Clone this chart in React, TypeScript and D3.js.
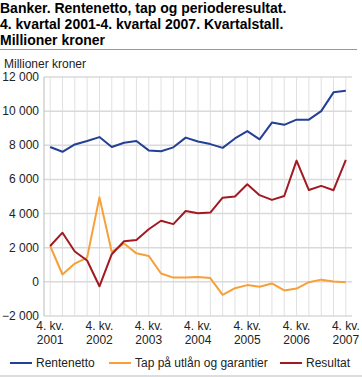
import React, { useEffect, useRef } from 'react';
import * as d3 from 'd3';

// quarters 4. kv. 2001 - 4. kv. 2007
const quarters = [
  '4-2001', '1-2002', '2-2002', '3-2002', '4-2002', '1-2003', '2-2003', '3-2003',
  '4-2003', '1-2004', '2-2004', '3-2004', '4-2004', '1-2005', '2-2005', '3-2005',
  '4-2005', '1-2006', '2-2006', '3-2006', '4-2006', '1-2007', '2-2007', '3-2007', '4-2007',
];
const rentenetto = [
  7900, 7620, 8050, 8250, 8480, 7900, 8150, 8250, 7700, 7650, 7880, 8450, 8220,
  8070, 7850, 8400, 8830, 8350, 9330, 9200, 9500, 9500, 10000, 11100, 11200,
];
const tap = [
  2100, 430, 1070, 1420, 4950, 1750, 2250, 1670, 1520, 490, 250, 250, 290,
  220, -760, -370, -190, -290, -95, -500, -390, -20, 130, 20, -20,
];
const resultat = [
  2100, 2880, 1780, 1250, -260, 1620, 2380, 2450, 3080, 3580, 3380, 4150, 4020,
  4060, 4930, 5000, 5720, 5080, 4800, 5030, 7100, 5380, 5620, 5370, 7150,
];
const yTicks = [-2000, 0, 2000, 4000, 6000, 8000, 10000, 12000];
const xLabelQuarters = ['4-2001', '4-2002', '4-2003', '4-2004', '4-2005', '4-2006', '4-2007'];
const seriesNames = ['Rentenetto', 'Tap på utlån og garantier', 'Resultat'];
const colors = ['#233f96', '#f7a039', '#a11a22'];

const font = '"Liberation Sans", Arial, sans-serif';

const App: React.FC = () => {
  const ref = useRef<SVGSVGElement | null>(null);

  useEffect(() => {
    if (!ref.current) return;
    const svg = d3.select(ref.current);
    svg.selectAll('*').remove();

    const left = 44;
    const right = 352;
    const top = 77;
    const bottom = 316;

    // title
    const title = [
      'Banker. Rentenetto, tap og perioderesultat.',
      '4. kvartal 2001-4. kvartal 2007. Kvartalstall.',
      'Millioner kroner',
    ];
    title.forEach((t, i) => {
      svg.append('text')
        .attr('x', 0)
        .attr('y', 13 + i * 16)
        .text(t)
        .style('font-family', font)
        .style('font-weight', 'bold')
        .style('font-size', '14px')
        .style('fill', '#000');
    });

    svg.append('line')
      .attr('x1', 0).attr('x2', 357)
      .attr('y1', 49.5).attr('y2', 49.5)
      .style('stroke', '#999')
      .style('stroke-width', 1);

    svg.append('text')
      .attr('x', 4)
      .attr('y', 68)
      .text('Millioner kroner')
      .style('font-family', font)
      .style('font-size', '12px')
      .style('fill', '#222');

    const x = d3.scaleBand().domain(quarters).range([left, right]);
    const cx = (q: string) => (x(q) || 0) + x.bandwidth() / 2;
    const y = d3.scaleLinear().domain([-2000, 12000]).range([bottom, top]);

    // vertical grid
    svg.append('g')
      .selectAll('line')
      .data(quarters)
      .enter().append('line')
      .attr('x1', (d) => cx(d)).attr('x2', (d) => cx(d))
      .attr('y1', top).attr('y2', bottom)
      .style('stroke', '#e0e0e0')
      .style('stroke-width', 1);

    // horizontal grid
    svg.append('g')
      .selectAll('line')
      .data(yTicks)
      .enter().append('line')
      .attr('x1', left).attr('x2', right)
      .attr('y1', (d) => y(d)).attr('y2', (d) => y(d))
      .style('stroke', '#dadada')
      .style('stroke-width', 1.5);

    // y axis line
    svg.append('line')
      .attr('x1', left).attr('x2', left)
      .attr('y1', top).attr('y2', bottom)
      .style('stroke', '#bbb')
      .style('stroke-width', 1);

    // y labels
    svg.append('g')
      .selectAll('text')
      .data(yTicks)
      .enter().append('text')
      .attr('x', 39)
      .attr('y', (d) => y(d) + 4)
      .attr('text-anchor', 'end')
      .text((d) => d3.format(',')(d).replace(/,/g, ' '))
      .style('font-family', font)
      .style('font-size', '12px')
      .style('fill', '#222');

    // x labels
    const xl = svg.append('g')
      .selectAll('g')
      .data(xLabelQuarters)
      .enter().append('g');
    xl.append('text')
      .attr('x', (d) => cx(d))
      .attr('y', 330)
      .attr('text-anchor', 'middle')
      .text('4. kv.')
      .style('font-family', font)
      .style('font-size', '12px')
      .style('fill', '#222');
    xl.append('text')
      .attr('x', (d) => cx(d))
      .attr('y', 344)
      .attr('text-anchor', 'middle')
      .text((d) => d.split('-')[1])
      .style('font-family', font)
      .style('font-size', '12px')
      .style('fill', '#222');

    // lines
    const line = d3.line<number>()
      .x((_, i) => cx(quarters[i]))
      .y((d) => y(d));

    [rentenetto, tap, resultat].forEach((s, i) => {
      svg.append('path')
        .datum(s)
        .attr('d', line)
        .style('fill', 'none')
        .style('stroke', colors[i])
        .style('stroke-width', 2)
        .style('stroke-linejoin', 'round');
    });

    // legend
    const legendX = [10, 109, 280];
    seriesNames.forEach((n, i) => {
      svg.append('line')
        .attr('x1', legendX[i]).attr('x2', legendX[i] + 22)
        .attr('y1', 363).attr('y2', 363)
        .style('stroke', colors[i])
        .style('stroke-width', 2);
      svg.append('text')
        .attr('x', legendX[i] + 26)
        .attr('y', 367)
        .text(n)
        .style('font-family', font)
        .style('font-size', '12px')
        .style('fill', '#222');
    });

    svg.append('line')
      .attr('x1', 0).attr('x2', 362)
      .attr('y1', 376).attr('y2', 376)
      .style('stroke', '#ddd')
      .style('stroke-width', 2);
  }, []);

  return (
    <svg
      ref={ref}
      width={362}
      height={377}
      style={{ position: 'absolute', left: 0, top: 0, background: '#fff' }}
    />
  );
};

export default App;
